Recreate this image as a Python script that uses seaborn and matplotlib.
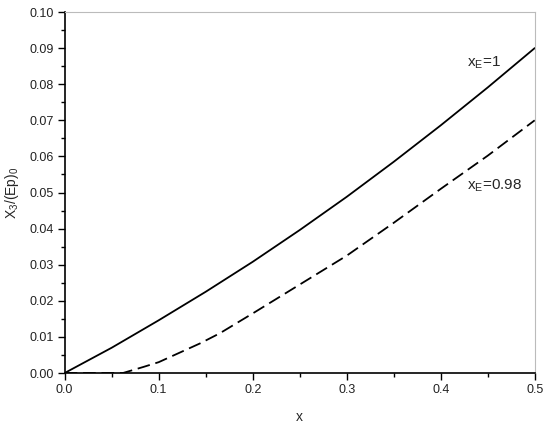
import matplotlib
matplotlib.use("Agg")
import matplotlib.pyplot as plt
import seaborn as sns
import pandas as pd
from matplotlib.ticker import MultipleLocator, FormatStrFormatter

sns.set_theme(style="white")
plt.rcParams['font.family'] = ['Liberation Sans', 'DejaVu Sans']
plt.rcParams['mathtext.fontset'] = 'custom'
plt.rcParams['mathtext.rm'] = 'Liberation Sans'
plt.rcParams['mathtext.it'] = 'Liberation Sans'

# data
x_solid = [0.0, 0.05, 0.1, 0.15, 0.2, 0.25, 0.3, 0.35, 0.4, 0.45, 0.5]
y_solid = [0.0, 0.0070, 0.0146, 0.0225, 0.0308, 0.0396, 0.0488, 0.0585, 0.0686, 0.0791, 0.0900]
x_dash = [0.0, 0.062, 0.084, 0.1, 0.144, 0.165, 0.2, 0.25, 0.3, 0.35, 0.4, 0.45, 0.5]
y_dash = [0.0, 0.0, 0.0017, 0.0030, 0.0082, 0.0110, 0.0165, 0.0245, 0.0325, 0.0416, 0.0510, 0.0602, 0.0700]
label_solid = r'x$_\mathrm{E}$=1'
label_dash = r'x$_\mathrm{E}$=0.98'

df_s = pd.DataFrame({'x': x_solid, 'y': y_solid})
df_d = pd.DataFrame({'x': x_dash, 'y': y_dash})

fig = plt.figure(figsize=(5.5, 4.26), dpi=100)
ax = fig.add_axes([0.1176, 0.1244, 0.8546, 0.8474])

sns.lineplot(data=df_s, x='x', y='y', ax=ax, color='black', lw=1.3, sort=False)
sns.lineplot(data=df_d, x='x', y='y', ax=ax, color='black', lw=1.3, sort=False)
ax.lines[-1].set_dashes((7, 3.2))

ax.set_xlim(0, 0.5)
ax.set_ylim(0, 0.10)
ax.xaxis.set_major_locator(MultipleLocator(0.1))
ax.xaxis.set_minor_locator(MultipleLocator(0.05))
ax.yaxis.set_major_locator(MultipleLocator(0.01))
ax.yaxis.set_minor_locator(MultipleLocator(0.005))
ax.xaxis.set_major_formatter(FormatStrFormatter('%.1f'))
ax.yaxis.set_major_formatter(FormatStrFormatter('%.2f'))
ax.tick_params(which='major', direction='out', length=5, width=1.0, color='black',
               labelsize=9, labelcolor='#222222', bottom=True, left=True, pad=3)
ax.tick_params(which='minor', direction='out', length=3, width=1.0, color='black',
               bottom=True, left=True)

for s in ['left', 'bottom']:
    ax.spines[s].set_color('black')
    ax.spines[s].set_linewidth(1.2)
for s in ['top', 'right']:
    ax.spines[s].set_color('#bbbbbb')
    ax.spines[s].set_linewidth(0.8)

ax.set_xlabel('x', fontsize=10, labelpad=10)
ax.set_ylabel(r'X$_3$/(Ep)$_0$', fontsize=10, labelpad=6)

ax.text(0.428, 0.0859, label_solid, fontsize=11, va='center', ha='left')
ax.text(0.428, 0.0518, label_dash, fontsize=11, va='center', ha='left')

fig.savefig('out.png', dpi=100)
